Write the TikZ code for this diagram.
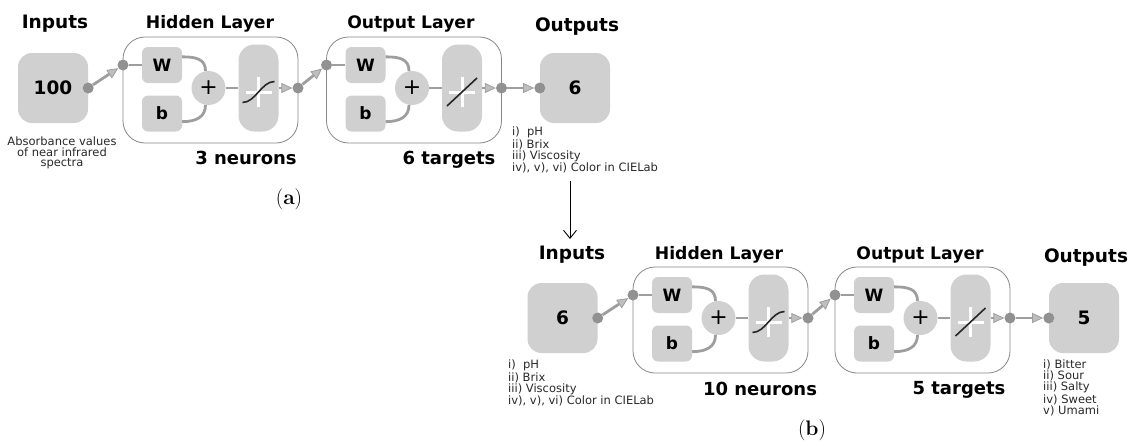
\documentclass[tikz,border=0pt]{standalone}
\usepackage{fontspec}
\setsansfont{DejaVu Sans}
\usetikzlibrary{arrows.meta,calc}
\definecolor{boxgray}{RGB}{208,208,208}
\definecolor{linegray}{RGB}{158,158,158}
\definecolor{dotgray}{RGB}{145,145,145}
\definecolor{framegray}{RGB}{135,135,135}
\definecolor{tipgray}{RGB}{190,190,190}
\definecolor{txtgray}{RGB}{40,40,40}

% one layer: name, centre, transfer curve
\newcommand{\nnlayer}[3]{%
\begin{scope}[shift={(#2)}]
\node[layerbox] (#1) at (0,0) {};
\node[wbbox] (#1w) at (-48.5,-25) {W};
\node[wbbox] (#1b) at (-48.5,23.5) {b};
\node[sumnode] (#1s) at (-2,-2) {+};
\node[tfbox] (#1f) at (48,-2) {};
\node[dot] (#1in) at (-87.5,-25) {};
\node[dot] (#1out) at (87.5,-2) {};
\draw[wire] (#1in) -- (#1w);
\draw[wire] (#1w.22) .. controls +(14,0) and +(0,-12) .. (#1s.100);
\draw[wire] (#1b.-22) .. controls +(14,0) and +(0,12) .. (#1s.-100);
\draw[wire] (#1s) -- (#1f);
\draw[arrow] (#1f) -- (#1out);
\begin{scope}[shift={(48,2)}]
\draw[cross] (-13,0) -- (13,0) (0,-15) -- (0,15);
\draw[tfline] #3;
\end{scope}
\end{scope}}

\begin{document}
\begin{tikzpicture}[x=1pt, y=-1pt,
layerbox/.style={draw=framegray, line width=0.8pt, rounded corners=22pt,
minimum width=175pt, minimum height=106pt, inner sep=0pt},
wbbox/.style={fill=boxgray, rounded corners=6pt, minimum width=40pt,
minimum height=36pt, inner sep=0pt, font=\sffamily\bfseries\fontsize{17}{20}\selectfont},
sumnode/.style={circle, fill=boxgray, minimum size=34pt, inner sep=0pt,
font=\sffamily\fontsize{22}{22}\selectfont},
tfbox/.style={fill=boxgray, rounded corners=16pt, minimum width=40pt,
minimum height=87pt, inner sep=0pt},
iobox/.style={fill=boxgray, rounded corners=14pt, minimum size=70pt,
inner sep=0pt, font=\sffamily\bfseries\fontsize{18.5}{22}\selectfont},
dot/.style={circle, fill=dotgray, minimum size=11pt, inner sep=0pt},
wire/.style={draw=linegray, line width=2.8pt},
arrow/.style={wire, -{Triangle[length=11pt,width=10pt,line width=0.8pt,fill=tipgray]}},
cross/.style={draw=white, line width=3pt},
tfline/.style={draw=black!85, line width=1.6pt},
head/.style={anchor=base, font=\sffamily\bfseries\fontsize{17.2}{20}\selectfont},
headio/.style={anchor=base, font=\sffamily\bfseries\fontsize{18.5}{22}\selectfont},
count/.style={anchor=base, font=\sffamily\bfseries\fontsize{18}{22}\selectfont},
note/.style={anchor=north west, inner sep=0pt, align=left, text=txtgray,
font=\sffamily\fontsize{11.5}{11}\selectfont},
sub/.style={font=\rmfamily\fontsize{21}{24}\selectfont},
link/.style={-{Straight Barb[length=8pt,width=13pt]}, line width=0.9pt, black}
]
\useasboundingbox (0,0) rectangle (1135,447);

% (a)
\node[headio] (tin1) at (55,28) {Inputs};
\node[head] (thid1) at (210,28) {Hidden Layer};
\node[head] (tout1) at (411,28) {Output Layer};
\node[headio] (touts1) at (577,31) {Outputs};

\node[iobox] (in1) at (53,88) {100};
\node[dot] (in1d) at (in1.east) {};
\nnlayer{h1}{210.5,90}{(-16,10.5) .. controls (-3,10.5) and (3,-10.5) .. (16,-10.5)}
\nnlayer{o1}{414,90}{(-15,14) -- (15,-14)}
\node[iobox] (out1) at (575,88) {6};
\node[dot] (out1d) at (out1.west) {};

\draw[arrow] (in1d) -- (h1in);
\draw[arrow] (h1out) -- (o1in);
\draw[arrow] (o1out) -- (out1d);

\node[note, anchor=north, align=center, font=\sffamily\fontsize{11.5}{10.5}\selectfont]
(abs1) at (62,137) {Absorbance values\\of near infrared\\spectra};
\node[count] (n1) at (246,164) {3 neurons};
\node[count] (n2) at (449,164) {6 targets};
\node[note] (list1) at (512,127)
{i)~~pH\\ii) Brix\\iii) Viscosity\\iv), v), vi) Color in CIELab};
\node[sub] (la) at (289,199) {(\textbf{a})};

% link
\coordinate (drop) at (570,181);

% (b)
\node[headio] (tin2) at (572,259) {Inputs};
\node[head] (thid2) at (719,259) {Hidden Layer};
\node[head] (tout2) at (920,259) {Output Layer};
\node[headio] (touts2) at (1086,262) {Outputs};

\draw[link, shorten >=3pt] (drop) -- (drop |- tin2.north);

\node[iobox] (in2) at (562.5,318) {6};
\node[dot] (in2d) at (in2.east) {};
\nnlayer{h2}{720.5,320}{(-16,10.5) .. controls (-3,10.5) and (3,-10.5) .. (16,-10.5)}
\nnlayer{o2}{922.5,320}{(-15,14) -- (15,-14)}
\node[iobox] (out2) at (1084,318) {5};
\node[dot] (out2d) at (out2.west) {};

\draw[arrow] (in2d) -- (h2in);
\draw[arrow] (h2out) -- (o2in);
\draw[arrow] (o2out) -- (out2d);

\node[note] (list2) at (508,360)
{i)~~pH\\ii) Brix\\iii) Viscosity\\iv), v), vi) Color in CIELab};
\node[count] (n3) at (760,395) {10 neurons};
\node[count] (n4) at (959,394) {5 targets};
\node[note] (list3) at (1043,360)
{i) Bitter\\ii) Sour\\iii) Salty\\iv) Sweet\\v) Umami};
\node[sub] (lb) at (812,430) {(\textbf{b})};
\end{tikzpicture}
\end{document}
